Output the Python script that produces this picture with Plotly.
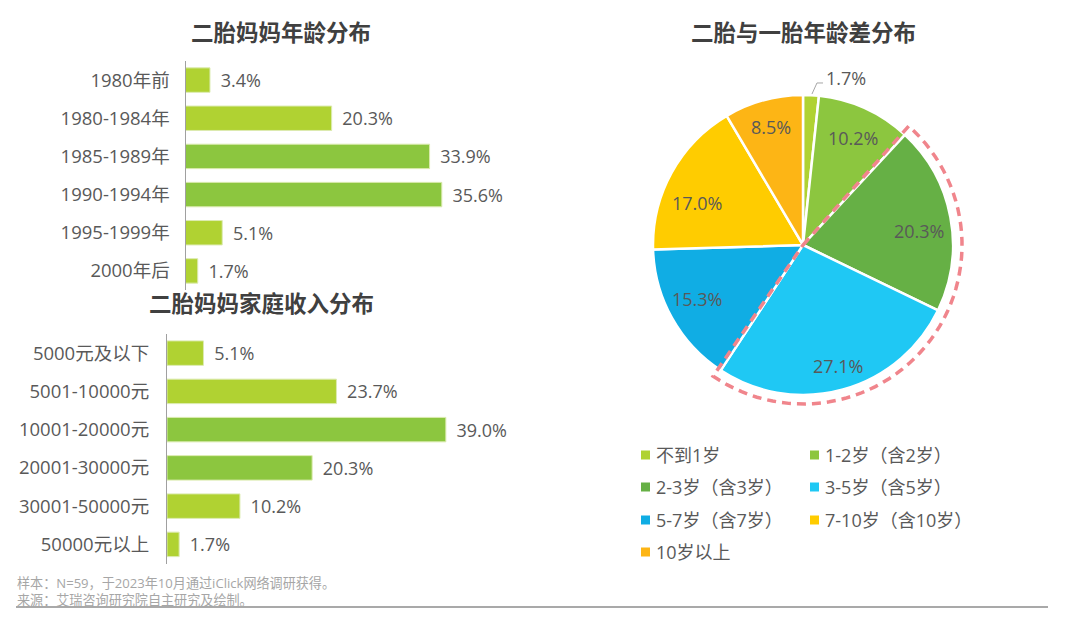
import numpy as np
import plotly.graph_objects as go

# the page keeps 8px of body margin round the figure
PAGE_MARGIN = 8
W = 1080 - 2 * PAGE_MARGIN
H = 627 - 2 * PAGE_MARGIN

age_labels = ["1980年前", "1980-1984年", "1985-1989年", "1990-1994年", "1995-1999年", "2000年后"]
age_values = [3.4, 20.3, 33.9, 35.6, 5.1, 1.7]
age_colors = ["#b0d232", "#b0d232", "#8cc63f", "#8cc63f", "#b0d232", "#b0d232"]

income_labels = ["5000元及以下", "5001-10000元", "10001-20000元", "20001-30000元", "30001-50000元", "50000元以上"]
income_values = [5.1, 23.7, 39.0, 20.3, 10.2, 1.7]
income_colors = ["#b0d232", "#b0d232", "#8cc63f", "#8cc63f", "#b0d232", "#b0d232"]

gap_labels = ["不到1岁", "1-2岁（含2岁）", "2-3岁（含3岁）", "3-5岁（含5岁）", "5-7岁（含7岁）", "7-10岁（含10岁）", "10岁以上"]
gap_values = [1.7, 10.2, 20.3, 27.1, 15.3, 17.0, 8.5]
gap_colors = ["#b0d232", "#8cc63f", "#66b045", "#1fc8f4", "#10ade4", "#ffcc00", "#fdb515"]

FONT = "Open Sans, Noto Sans CJK SC, sans-serif"
TEXT = "#595959"
TITLE = "#404040"


# pixel helpers, the picture was measured in pixels
def px(x):
    return (x - PAGE_MARGIN) / W


def py(y):
    return 1 - (y - PAGE_MARGIN) / H


def bar_trace(labels, values, colors, xa, ya):
    return go.Bar(
        y=labels,
        x=values,
        orientation="h",
        marker=dict(color=colors, line=dict(color="#dcebb0", width=1)),
        text=["\u00a0\u2009%.1f%%" % v for v in values],
        textposition="outside",
        textfont=dict(size=18, color=TEXT, family=FONT),
        cliponaxis=False,
        width=0.64,
        xaxis=xa,
        yaxis=ya,
        hoverinfo="skip",
    )


fig = go.Figure()
fig.add_trace(bar_trace(age_labels, age_values, age_colors, "x", "y"))
fig.add_trace(bar_trace(income_labels, income_values, income_colors, "x2", "y2"))

fig.add_trace(go.Pie(
    labels=gap_labels,
    values=gap_values,
    sort=False,
    direction="clockwise",
    rotation=0,
    marker=dict(colors=gap_colors, line=dict(color="white", width=2.5)),
    textinfo="none",
    domain=dict(x=[px(653), px(953)], y=[py(395), py(95)]),
    hoverinfo="skip",
    showlegend=False,
))

axis_x = dict(showgrid=False, zeroline=False, showticklabels=False, showline=False, ticks="", fixedrange=True)
axis_y = dict(
    type="category", autorange="reversed", showgrid=False, zeroline=False,
    showline=True, linecolor="#a0a0a0", linewidth=1.2, ticks="",
    ticklabelstandoff=11, tickfont=dict(size=18.5, color=TEXT, family=FONT),
)

# dashed outline round the 2-3 and 3-5 year slices
total = sum(gap_values)
a1 = 2 * np.pi * sum(gap_values[:2]) / total
a2 = 2 * np.pi * sum(gap_values[:4]) / total
cx, cy, r = 803, 245, 159
path = "M %.4f %.4f" % (px(cx), py(cy))
for a in np.linspace(a1 - 0.02, a2 + 0.02, 60):
    path += " L %.4f %.4f" % (px(cx + r * np.sin(a)), py(cy - r * np.cos(a)))
path += " Z"

shapes = [
    dict(type="path", xref="paper", yref="paper", path=path, layer="above",
         line=dict(color="#f0858c", width=3.5, dash="9px,6px")),
    # footer rule
    dict(type="line", xref="paper", yref="paper", x0=px(16), x1=px(1048), y0=py(607), y1=py(607),
         line=dict(color="#8c8c8c", width=1.5)),
    # leader of the 1.7% label
    dict(type="path", xref="paper", yref="paper", layer="above",
         path="M %.4f %.4f L %.4f %.4f L %.4f %.4f" % (px(812), py(94), px(817), py(83), px(823), py(83)),
         line=dict(color="#a6a6a6", width=1)),
]

annotations = []


def add_text(x, y, text, size, color, anchor="left", bold=False):
    annotations.append(dict(
        x=px(x), y=py(y), xref="paper", yref="paper", text="<b>%s</b>" % text if bold else text,
        showarrow=False, xanchor=anchor, yanchor="middle",
        font=dict(size=size, color=color, family=FONT),
    ))


add_text(281, 33, "二胎妈妈年龄分布", 22.5, TITLE, "center", True)
add_text(261, 303, "二胎妈妈家庭收入分布", 22.5, TITLE, "center", True)
add_text(803, 33, "二胎与一胎年龄差分布", 22.5, TITLE, "center", True)
add_text(823.5, 78, "%.1f%%" % gap_values[0], 18, TEXT)

# slice labels sit further out than plotly's own inside placement
pie_label_pos = [(853, 138), (919, 231), (838, 366), (697, 299), (697, 203), (771, 127)]
for (lx, ly), v in zip(pie_label_pos, gap_values[1:]):
    add_text(lx, ly, "%.1f%%" % v, 18, TEXT, "center")

add_text(15, 583, "样本：N=59，于2023年10月通过iClick网络调研获得。", 13.1, "#a6a6a6")
add_text(15, 600, "来源：艾瑞咨询研究院自主研究及绘制。", 13.1, "#a6a6a6")

# legend, two columns
legend_x = [641, 810]
legend_y = [455, 487, 520, 552]
for i, (label, color) in enumerate(zip(gap_labels, gap_colors)):
    lx = legend_x[i % 2]
    ly = legend_y[i // 2]
    shapes.append(dict(type="rect", xref="paper", yref="paper",
                       x0=px(lx), x1=px(lx + 9), y0=py(ly - 4.5), y1=py(ly + 4.5),
                       fillcolor=color, line=dict(width=0)))
    add_text(lx + 13, ly, label, 18, TEXT)

fig.update_layout(
    width=W,
    height=H,
    margin=dict(l=0, r=0, t=0, b=0),
    paper_bgcolor="white",
    plot_bgcolor="white",
    showlegend=False,
    bargap=0.36,
    font=dict(family=FONT, color=TEXT),
    xaxis=dict(axis_x, domain=[px(185.5), px(185.5 + 288)], range=[0, 40], anchor="y"),
    yaxis=dict(axis_y, domain=[py(290), py(61)], anchor="x"),
    xaxis2=dict(axis_x, domain=[px(167), px(167 + 286)], range=[0, 40], anchor="y2"),
    yaxis2=dict(axis_y, domain=[py(563.5), py(334)], anchor="x2", ticklabelstandoff=13),
    shapes=shapes,
    annotations=annotations,
)

fig.write_html("out.html")
